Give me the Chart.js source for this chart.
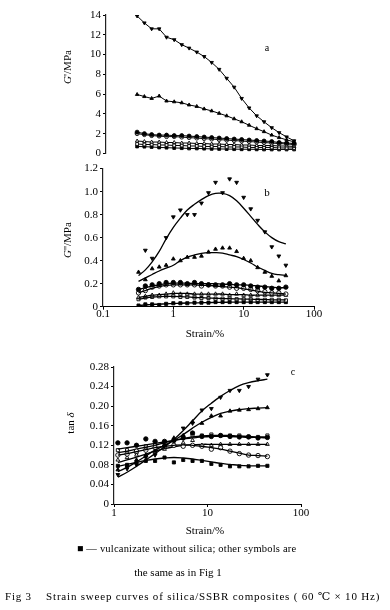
<!DOCTYPE html>
<html><head><meta charset="utf-8">
<script src="https://cdn.jsdelivr.net/npm/chart.js@4/dist/chart.umd.min.js"></script>
<style>
html,body{margin:0;padding:0;background:#fff}
body{width:390px;height:610px;position:relative;overflow:hidden;font-family:"Liberation Serif","DejaVu Serif",serif;color:#000}
canvas{position:absolute;left:0}
.t{position:absolute;white-space:nowrap;line-height:1;font-size:11px;transform:translate(-50%,-50%)}
.r{transform:translate(-50%,-50%) rotate(-90deg)}
.l{position:absolute;white-space:nowrap;line-height:1;font-size:11px;transform:translateY(-50%)}
</style></head><body>
<canvas id="ca"></canvas>
<canvas id="cb"></canvas>
<canvas id="cc"></canvas>

<div class="t r" style="left:67px;top:67px"><i>G</i>'/MPa</div>
<div class="t r" style="left:67px;top:240px"><i>G</i>''/MPa</div>
<div class="t r" style="left:70px;top:423px">tan <i>δ</i></div>
<div class="t" style="left:267px;top:48px;font-size:10px">a</div>
<div class="t" style="left:267px;top:192px;font-size:11px">b</div>
<div class="t" style="left:293px;top:372px;font-size:10px">c</div>
<div class="t" style="left:205px;top:333px">Strain/%</div>
<div class="t" style="left:205px;top:530px">Strain/%</div>
<div class="l" style="left:77px;top:549px;font-size:10.5px;letter-spacing:0.2px">■ — vulcanizate without silica; other symbols are</div>
<div class="t" style="left:178px;top:572px">the same as in Fig 1</div>
<div class="l" style="left:5px;top:596px;font-size:11px;letter-spacing:0.8px">Fig 3&nbsp;&nbsp;&nbsp; Strain sweep curves of silica/SSBR composites ( 60 ℃ × 10 Hz)</div>

<script>
// ---------------- data ----------------
const STRAIN_AB = [0.32,0.40,0.50,0.63,0.79,1.00,1.26,1.58,2.00,2.51,3.16,3.98,5.01,6.31,7.94,10.0,12.6,15.8,20.0,25.1,31.6,39.8];
const STRAIN_C  = [1.10,1.38,1.74,2.19,2.75,3.47,4.37,5.50,6.92,8.71,11.0,13.8,17.4,21.9,27.5,34.7,43.7];

// symbols: ▼ filled, ▲ filled, ● filled, ○ open, △ open, □ open, ■ filled (no silica)
const SYMBOLS = ['down','up','dot','circle','tri','square','block'];

// Panel a : G' / MPa
const A_DOWN   = [13.9,13.2,12.6,12.6,11.75,11.5,11.0,10.65,10.25,9.8,9.2,8.5,7.6,6.7,5.56,4.6,3.8,3.2,2.6,2.1,1.67,1.27];
const A_UP     = [5.96,5.75,5.56,5.8,5.3,5.22,5.12,4.9,4.75,4.5,4.3,4.05,3.8,3.5,3.2,2.85,2.5,2.2,1.85,1.6,1.37,1.17];
const A_DOT    = [2.15,2.0,1.9,1.85,1.85,1.8,1.8,1.75,1.7,1.65,1.6,1.55,1.5,1.45,1.4,1.35,1.3,1.25,1.2,1.1,1.05,1.0];
const A_CIRCLE = [2.0,1.9,1.8,1.75,1.7,1.7,1.65,1.6,1.55,1.5,1.45,1.4,1.35,1.3,1.25,1.2,1.15,1.1,1.05,1.0,0.95,0.9];
const A_TRI    = [1.25,1.2,1.15,1.15,1.1,1.1,1.05,1.05,1.0,1.0,0.95,0.95,0.9,0.9,0.85,0.85,0.8,0.8,0.8,0.75,0.75,0.7];
const A_SQUARE = [0.95,0.9,0.9,0.85,0.85,0.8,0.8,0.75,0.75,0.7,0.7,0.7,0.65,0.65,0.65,0.6,0.6,0.6,0.6,0.55,0.55,0.55];
const A_BLOCK  = [0.7,0.68,0.65,0.6,0.58,0.55,0.53,0.5,0.5,0.48,0.46,0.45,0.44,0.43,0.42,0.42,0.41,0.4,0.4,0.4,0.4,0.4];

// Panel b : G'' / MPa  (measured points and fitted curves)
const B_DOWN       = [null,0.49,0.42,null,0.60,0.78,0.84,0.80,0.80,0.90,0.99,1.08,0.99,1.11,1.08,0.95,0.85,0.75,0.65,0.52,0.44,0.36];
const B_DOWN_FIT   = [0.27,0.32,0.39,0.48,0.59,0.69,0.77,0.84,0.89,0.93,0.965,0.985,0.985,0.965,0.92,0.855,0.785,0.715,0.65,0.60,0.565,0.545];
const B_UP         = [0.30,0.235,0.33,0.345,0.36,0.415,0.40,0.43,0.43,0.44,0.475,0.50,0.51,0.51,0.48,0.42,0.40,0.34,0.30,0.265,0.225,0.27];
const B_UP_FIT     = [0.22,0.25,0.28,0.31,0.335,0.36,0.40,0.43,0.45,0.463,0.47,0.47,0.465,0.45,0.435,0.41,0.38,0.345,0.315,0.29,0.278,0.272];
const B_DOT        = [0.15,0.18,0.19,0.20,0.21,0.21,0.21,0.20,0.21,0.20,0.19,0.19,0.19,0.20,0.19,0.19,0.18,0.17,0.17,0.16,0.16,0.17];
const B_DOT_FIT    = [0.15,0.165,0.18,0.19,0.20,0.205,0.205,0.205,0.20,0.20,0.20,0.20,0.195,0.195,0.19,0.19,0.185,0.18,0.175,0.17,0.165,0.165];
const B_CIRCLE     = [0.12,0.14,0.17,0.18,0.19,0.19,0.19,0.19,0.19,0.18,0.19,0.18,0.18,0.17,0.16,0.16,0.15,0.14,0.13,0.12,0.12,0.11];
const B_CIRCLE_FIT = [0.12,0.14,0.16,0.175,0.185,0.19,0.19,0.19,0.19,0.185,0.185,0.18,0.175,0.17,0.165,0.155,0.145,0.135,0.125,0.12,0.115,0.11];
const B_TRI        = [0.08,0.09,0.10,0.10,0.11,0.12,0.11,0.11,0.11,0.11,0.11,0.11,0.11,0.10,0.11,0.10,0.10,0.10,0.10,0.10,0.10,0.10];
const B_TRI_FIT    = [0.08,0.09,0.10,0.105,0.11,0.115,0.115,0.115,0.11,0.11,0.11,0.11,0.11,0.105,0.105,0.105,0.10,0.10,0.10,0.10,0.10,0.10];
const B_SQUARE     = [0.065,0.08,0.085,0.09,0.09,0.09,0.085,0.085,0.08,0.075,0.075,0.07,0.07,0.07,0.065,0.065,0.065,0.06,0.06,0.06,0.06,0.055];
const B_SQUARE_FIT = [0.065,0.075,0.083,0.088,0.09,0.09,0.088,0.085,0.08,0.078,0.075,0.073,0.07,0.07,0.068,0.066,0.065,0.063,0.062,0.06,0.06,0.06];
const B_BLOCK      = [0.01,0.02,0.02,0.015,0.025,0.03,0.03,0.03,0.035,0.035,0.035,0.04,0.04,0.04,0.04,0.04,0.04,0.04,0.04,0.04,0.04,0.04];
const B_BLOCK_FIT  = [0.01,0.015,0.02,0.022,0.025,0.027,0.03,0.032,0.033,0.035,0.036,0.037,0.038,0.039,0.04,0.04,0.04,0.04,0.04,0.04,0.04,0.04];

// Panel c : tan δ
const C_DOWN       = [0.06,0.072,0.08,0.095,0.10,0.118,0.13,0.155,0.165,0.192,0.195,0.218,0.232,0.232,0.24,0.255,0.264];
const C_DOWN_FIT   = [0.055,0.065,0.077,0.09,0.103,0.117,0.132,0.15,0.17,0.19,0.206,0.22,0.232,0.242,0.248,0.252,0.255];
const C_UP         = [0.07,0.078,0.09,0.10,0.108,0.12,0.135,0.14,0.168,0.165,0.18,0.18,0.19,0.192,0.193,0.195,0.197];
const C_UP_FIT     = [0.066,0.075,0.086,0.098,0.11,0.12,0.13,0.142,0.155,0.167,0.177,0.185,0.19,0.193,0.195,0.196,0.197];
const C_DOT        = [0.125,0.125,0.12,0.133,0.128,0.128,0.13,0.135,0.145,0.138,0.138,0.14,0.138,0.137,0.137,0.135,0.136];
const C_DOT_FIT    = [0.112,0.115,0.118,0.121,0.124,0.127,0.13,0.133,0.135,0.137,0.138,0.138,0.138,0.137,0.136,0.136,0.135];
const C_CIRCLE     = [0.10,0.102,0.108,0.11,0.115,0.118,0.12,0.118,0.12,0.118,0.112,0.115,0.108,0.103,0.10,0.099,0.097];
const C_CIRCLE_FIT = [0.10,0.103,0.107,0.111,0.115,0.118,0.12,0.121,0.12,0.118,0.115,0.112,0.108,0.104,0.10,0.099,0.098];
const C_TRI        = [0.09,0.095,0.10,0.10,0.105,0.112,0.12,0.125,0.13,0.12,0.12,0.122,0.122,0.122,0.122,0.122,0.122];
const C_TRI_FIT    = [0.085,0.09,0.096,0.102,0.108,0.113,0.117,0.12,0.121,0.122,0.122,0.122,0.122,0.122,0.122,0.122,0.122];
const C_SQUARE     = [0.11,0.11,0.105,0.118,0.12,0.125,0.13,0.138,0.14,0.14,0.142,0.14,0.14,0.14,0.138,0.137,0.14];
const C_SQUARE_FIT = [0.105,0.108,0.112,0.116,0.12,0.125,0.13,0.134,0.137,0.139,0.14,0.14,0.14,0.139,0.138,0.137,0.137];
const C_BLOCK      = [0.078,0.08,0.085,0.088,0.088,0.095,0.085,0.09,0.088,0.088,0.082,0.08,0.077,0.077,0.077,0.078,0.078];
const C_BLOCK_FIT  = [0.077,0.081,0.085,0.089,0.092,0.094,0.095,0.094,0.092,0.089,0.086,0.083,0.081,0.079,0.078,0.078,0.078];

// tick labels
const X_TICKS_B = [0.1,1,10,100];
const X_LABELS_B = ['0.1','1','10','100'];
const X_TICKS_C = [1,10,100];
const X_LABELS_C = ['1','10','100'];
const Y_TICKS_A = [0,2,4,6,8,10,12,14];
const Y_LABELS_A = ['0','2','4','6','8','10','12','14'];
const Y_TICKS_B = [0,0.2,0.4,0.6,0.8,1.0,1.2];
const Y_LABELS_B = ['0','0.2','0.4','0.6','0.8','1.0','1.2'];
const Y_TICKS_C = [0,0.04,0.08,0.12,0.16,0.20,0.24,0.28];
const Y_LABELS_C = ['0','0.04','0.08','0.12','0.16','0.20','0.24','0.28'];

// ---------------- drawing ----------------
const FONT = {family:'"Liberation Serif", serif', size:11};
function sym(name, r){
  const s = {down:['triangle',180,'#000'], up:['triangle',0,'#000'], dot:['circle',0,'#000'],
    circle:['circle',0,'#fff'], tri:['triangle',0,'#fff'], square:['rect',0,'#fff'], block:['rect',0,'#000']}[name];
  return {pointStyle:s[0], pointRotation:s[1], pointBackgroundColor:s[2], pointBorderColor:'#000', pointBorderWidth:0.9, pointRadius:r};
}
function pts(xs, ys){ return xs.map((x,i)=>({x:x, y:ys[i]})); }
function connected(xs, ys, name){
  return Object.assign({data:pts(xs,ys), borderColor:'#000', borderWidth:1, tension:0, showLine:true}, sym(name,2));
}
function scatter(xs, ys, name){
  return Object.assign({data:pts(xs,ys), showLine:false, borderColor:'#000'}, sym(name,2.2));
}
function fit(xs, ys){
  return {data:pts(xs,ys), borderColor:'#000', borderWidth:1.3, pointRadius:0, tension:0.4, showLine:true, fill:false};
}
function fixedTicks(vals){ return function(scale){ scale.ticks = vals.map(v=>({value:v})); }; }
function labelOf(vals, labels){ return function(v){ const i = vals.findIndex(t=>Math.abs(t-v)<1e-9); return i<0?'':labels[i]; }; }

function panel(id, top, h, area, xs, ys, datasets){
  const cv = document.getElementById(id);
  cv.width = 390; cv.height = h; cv.style.top = top + 'px';
  const xBox = xs.display ? xs.boxH : 0;
  new Chart(cv, {
    type:'line',
    data:{datasets:datasets},
    options:{
      responsive:false, animation:false, devicePixelRatio:1,
      layout:{padding:{left:0, right:390-area.r, top:area.t-top, bottom:top+h-area.b-xBox}},
      plugins:{legend:{display:false}, tooltip:{enabled:false}},
      scales:{
        x:{
          type:'logarithmic', min:xs.min, max:xs.max, display:xs.display,
          afterBuildTicks: xs.ticks ? fixedTicks(xs.ticks) : undefined,
          afterFit: function(s){ s.height = xBox; },
          grid:{display:true, drawOnChartArea:false, tickLength:3, color:'#000', lineWidth:1},
          border:{display:true, color:'#000', width:1},
          ticks:{autoSkip:false, maxRotation:0, minRotation:0, padding:xs.pad||0, color:'#000', font:FONT,
            callback: xs.ticks ? labelOf(xs.ticks, xs.labels) : ()=>''}
        },
        y:{
          type:'linear', min:ys.min, max:ys.max,
          afterBuildTicks: fixedTicks(ys.ticks),
          afterFit: function(s){ s.width = area.l; },
          grid:{display:true, drawOnChartArea:false, tickLength:3, color:'#000', lineWidth:1},
          border:{display:true, color:'#222', width:1.2},
          ticks:{autoSkip:false, padding:2, color:'#000', font:FONT, callback: labelOf(ys.ticks, ys.labels)}
        }
      }
    }
  });
}

// Panel a
panel('ca', 0, 162, {l:106, r:326, t:15, b:154},
  {display:false, min:0.123, max:106},
  {min:0, max:14, ticks:Y_TICKS_A, labels:Y_LABELS_A},
  [connected(STRAIN_AB,A_DOWN,'down'), connected(STRAIN_AB,A_UP,'up'), connected(STRAIN_AB,A_DOT,'dot'),
   connected(STRAIN_AB,A_CIRCLE,'circle'), connected(STRAIN_AB,A_TRI,'tri'), connected(STRAIN_AB,A_SQUARE,'square'),
   connected(STRAIN_AB,A_BLOCK,'block')]);

// Panel b
panel('cb', 160, 184, {l:103, r:314, t:167.3, b:306.7},
  {display:true, boxH:34, min:0.1, max:100, ticks:X_TICKS_B, labels:X_LABELS_B, pad:-2.5},
  {min:0, max:1.2, ticks:Y_TICKS_B, labels:Y_LABELS_B},
  [fit(STRAIN_AB,B_DOWN_FIT), scatter(STRAIN_AB,B_DOWN,'down'),
   fit(STRAIN_AB,B_UP_FIT), scatter(STRAIN_AB,B_UP,'up'),
   fit(STRAIN_AB,B_DOT_FIT), scatter(STRAIN_AB,B_DOT,'dot'),
   fit(STRAIN_AB,B_CIRCLE_FIT), scatter(STRAIN_AB,B_CIRCLE,'circle'),
   fit(STRAIN_AB,B_TRI_FIT), scatter(STRAIN_AB,B_TRI,'tri'),
   fit(STRAIN_AB,B_SQUARE_FIT), scatter(STRAIN_AB,B_SQUARE,'square'),
   fit(STRAIN_AB,B_BLOCK_FIT), scatter(STRAIN_AB,B_BLOCK,'block')]);

// Panel c
panel('cc', 355, 175, {l:114, r:301, t:367, b:504},
  {display:true, boxH:20, min:1, max:100, ticks:X_TICKS_C, labels:X_LABELS_C, pad:0},
  {min:0, max:0.28, ticks:Y_TICKS_C, labels:Y_LABELS_C},
  [fit(STRAIN_C,C_DOWN_FIT), scatter(STRAIN_C,C_DOWN,'down'),
   fit(STRAIN_C,C_UP_FIT), scatter(STRAIN_C,C_UP,'up'),
   fit(STRAIN_C,C_DOT_FIT), scatter(STRAIN_C,C_DOT,'dot'),
   fit(STRAIN_C,C_CIRCLE_FIT), scatter(STRAIN_C,C_CIRCLE,'circle'),
   fit(STRAIN_C,C_TRI_FIT), scatter(STRAIN_C,C_TRI,'tri'),
   fit(STRAIN_C,C_SQUARE_FIT), scatter(STRAIN_C,C_SQUARE,'square'),
   fit(STRAIN_C,C_BLOCK_FIT), scatter(STRAIN_C,C_BLOCK,'block')]);
</script>
</body></html>
